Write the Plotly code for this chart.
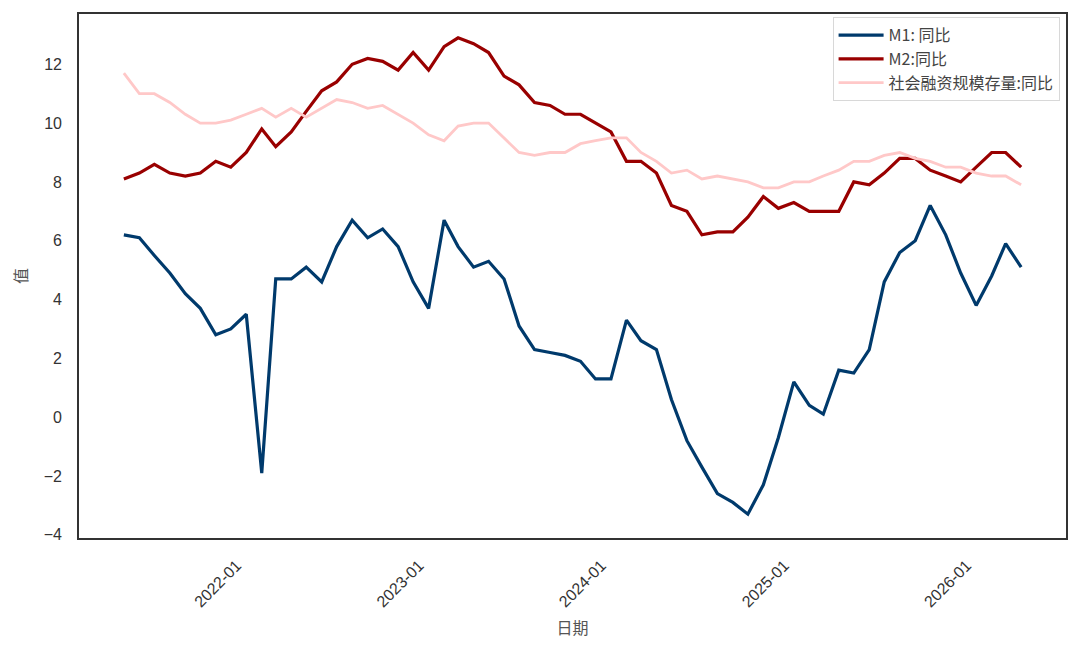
import pandas as pd
import plotly.graph_objects as go

dates = pd.date_range("2021-04-30", periods=60, freq="ME")

m1 = [6.2, 6.1, 5.5, 4.9, 4.2, 3.7, 2.8, 3.0, 3.5, -1.9,
      4.7, 4.7, 5.1, 4.6, 5.8, 6.7, 6.1, 6.4, 5.8, 4.6,
      3.7, 6.7, 5.8, 5.1, 5.3, 4.7, 3.1, 2.3, 2.2, 2.1,
      1.9, 1.3, 1.3, 3.3, 2.6, 2.3, 0.6, -0.8, -1.7, -2.6,
      -2.9, -3.3, -2.3, -0.7, 1.2, 0.4, 0.1, 1.6, 1.5, 2.3,
      4.6, 5.6, 6.0, 7.2, 6.2, 4.9, 3.8, 4.8, 5.9, 5.1]

m2 = [8.1, 8.3, 8.6, 8.3, 8.2, 8.3, 8.7, 8.5, 9.0, 9.8,
      9.2, 9.7, 10.4, 11.1, 11.4, 12.0, 12.2, 12.1, 11.8, 12.4,
      11.8, 12.6, 12.9, 12.7, 12.4, 11.6, 11.3, 10.7, 10.6, 10.3,
      10.3, 10.0, 9.7, 8.7, 8.7, 8.3, 7.2, 7.0, 6.2, 6.3,
      6.3, 6.8, 7.5, 7.1, 7.3, 7.0, 7.0, 7.0, 8.0, 7.9,
      8.3, 8.8, 8.8, 8.4, 8.2, 8.0, 8.5, 9.0, 9.0, 8.5]

tsf = [11.7, 11.0, 11.0, 10.7, 10.3, 10.0, 10.0, 10.1, 10.3, 10.5,
       10.2, 10.5, 10.2, 10.5, 10.8, 10.7, 10.5, 10.6, 10.3, 10.0,
       9.6, 9.4, 9.9, 10.0, 10.0, 9.5, 9.0, 8.9, 9.0, 9.0,
       9.3, 9.4, 9.5, 9.5, 9.0, 8.7, 8.3, 8.4, 8.1, 8.2,
       8.1, 8.0, 7.8, 7.8, 8.0, 8.0, 8.2, 8.4, 8.7, 8.7,
       8.9, 9.0, 8.8, 8.7, 8.5, 8.5, 8.3, 8.2, 8.2, 7.9]

series_names = ["M1: 同比", "M2:同比", "社会融资规模存量:同比"]
series_colors = ["#003a6c", "#990000", "#ffc8c8"]
series_widths = [3.2, 3.2, 2.8]

tick_dates = ["2022-01-01", "2023-01-01", "2024-01-01", "2025-01-01", "2026-01-01"]
tick_labels = ["2022-01", "2023-01", "2024-01", "2025-01", "2026-01"]
y_ticks = [-4, -2, 0, 2, 4, 6, 8, 10, 12]

span = dates[-1] - dates[0]
x_range = [dates[0] - span * 0.05, dates[-1] + span * 0.05]

all_vals = m1 + m2 + tsf
ymin, ymax = min(all_vals), max(all_vals)
yr = ymax - ymin
y_range = [ymin - 0.05 * yr, ymax + 0.05 * yr]

fig = go.Figure()
for k, (vals, name, color, w) in enumerate(zip([m1, m2, tsf], series_names, series_colors, series_widths)):
    fig.add_trace(go.Scatter(x=dates, y=vals, mode="lines", name=name, legendgroup=f"g{k}",
                             line=dict(color=color, width=w)))

tick_font = dict(family="Liberation Sans, Arial, sans-serif", size=16, color="#333333")
cjk = "Noto Sans CJK SC"

fig.update_layout(
    width=1080, height=648,
    margin=dict(l=71, r=22, t=4, b=118),
    paper_bgcolor="white", plot_bgcolor="white",
    showlegend=True,
    legend=dict(x=0.9935, y=0.994, xanchor="right", yanchor="top",
                bgcolor="rgba(255,255,255,0.85)", bordercolor="#d8d8d8", borderwidth=1,
                font=dict(family=cjk, size=16, color="#444444"),
                tracegroupgap=0, itemwidth=45),
    xaxis=dict(range=x_range, type="date",
               tickvals=tick_dates, ticktext=tick_labels, tickangle=-45,
               tickfont=tick_font, showgrid=False, zeroline=False,
               showline=True, linecolor="#333333", linewidth=1.6, mirror=True,
               ticks="", ticklabelstandoff=10, ticklabelshift=-10,
               title=dict(text="日期", font=dict(family=cjk, size=16, color="#555555"), standoff=14)),
    yaxis=dict(range=y_range, tickvals=y_ticks, tickfont=tick_font,
               showgrid=False, zeroline=False,
               showline=True, linecolor="#333333", linewidth=1.6, mirror=True,
               ticks="", ticklabelstandoff=12,
               title=dict(text="值", font=dict(family=cjk, size=16, color="#555555"), standoff=14)),
)

fig.write_html("out.html")
